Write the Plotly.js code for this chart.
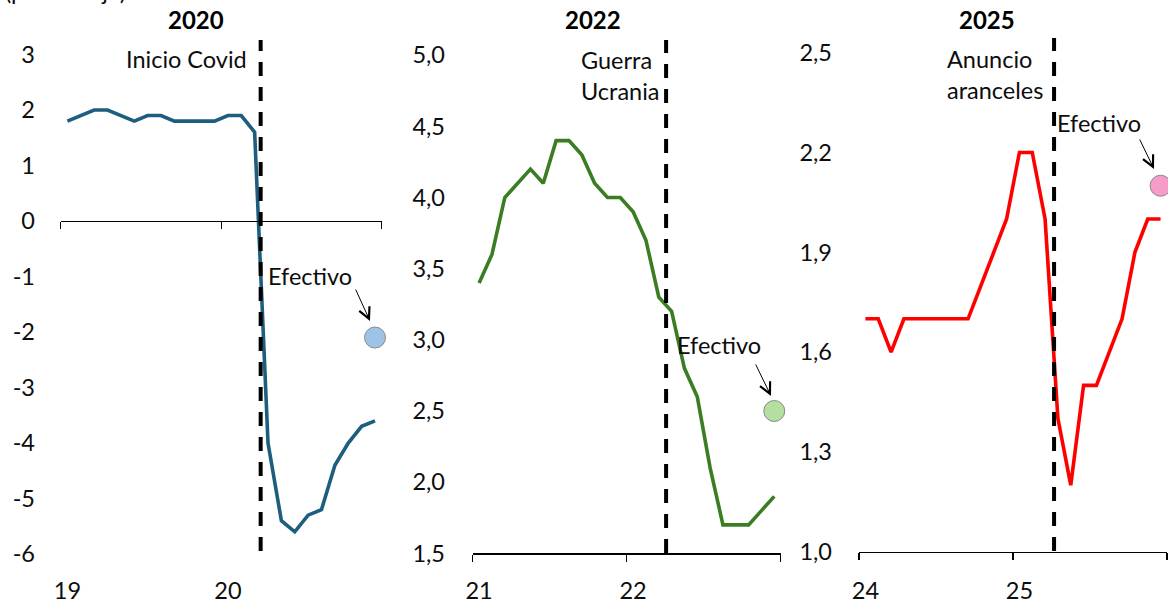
<!DOCTYPE html>
<html>
<head>
<meta charset="utf-8">
<script src="https://cdn.plot.ly/plotly-3.0.1.min.js"></script>
<style>
  html, body { margin: 0; padding: 0; background: #ffffff; }
  #chart { width: 1168px; height: 606px; }
</style>
</head>
<body>
<div id="chart"></div>
<script>
// Monthly readings, Jan of the first year through Dec of the second year, one panel per episode
const titles = ['2020', '2022', '2025'];
const yearLabels = [['19', '20'], ['21', '22'], ['24', '25']];
const eventLabels = ['Inicio Covid', 'Guerra<br>Ucrania', 'Anuncio<br>aranceles'];
const effectiveLabel = 'Efectivo';
const unitLabel = '(porcentaje)';

const covidSeries   = [1.8, 1.9, 2.0, 2.0, 1.9, 1.8, 1.9, 1.9, 1.8, 1.8, 1.8, 1.8,
                       1.9, 1.9, 1.6, -4.0, -5.4, -5.6, -5.3, -5.2, -4.4, -4.0, -3.7, -3.6];
const ukraineSeries = [3.4, 3.6, 4.0, 4.1, 4.2, 4.1, 4.4, 4.4, 4.3, 4.1, 4.0, 4.0,
                       3.9, 3.7, 3.3, 3.2, 2.8, 2.6, 2.1, 1.7, 1.7, 1.7, 1.8, 1.9];
const tariffSeries  = [1.7, 1.7, 1.6, 1.7, 1.7, 1.7, 1.7, 1.7, 1.7, 1.8, 1.9, 2.0,
                       2.2, 2.2, 2.0, 1.4, 1.2, 1.5, 1.5, 1.6, 1.7, 1.9, 2.0, 2.0];
const effectiveValues = [-2.1, 2.5, 2.1];
// event date, in months since the start of the panel's first year
const eventMonth = [14.95, 15.07, 15.2];

const yTicks1 = [-6, -5, -4, -3, -2, -1, 0, 1, 2, 3];
const yTicks2 = [1.5, 2.0, 2.5, 3.0, 3.5, 4.0, 4.5, 5.0];
const yTicks3 = [1.0, 1.3, 1.6, 1.9, 2.2, 2.5];

// ---- page geometry (pixels) ----
const W = 1168, H = 606;
const fx = px => px / W;
const fy = py => 1 - py / H;
const PLOT_TOP = 28, PLOT_BOTTOM = 564;
const LABEL_AXIS_PX = 574;
const FONT = 'Lato, "Open Sans", sans-serif';
const INK = '#0d0d0d';
const TXT = 23.5;

const panels = [
  { series: covidSeries, ticks: yTicks1, fmt: v => String(v), cross: 0,
    line: '#1d5e7e', dot: '#9dc3e6',
    left: 60.7, right: 381.7, refVal: 0, refPx: 221, ppu: 55.5, labelRight: 33,
    dashTop: 40, dashBot: 551, titleX: 196,
    evt: { x: 249, y: 59, xanchor: 'right', align: 'right' },
    eff: { x: 266, y: 276 }, arrow: { tx: 370, ty: 321, sx: 355, sy: 288 } },
  { series: ukraineSeries, ticks: yTicks2, fmt: v => v.toFixed(1).replace('.', ','), cross: yTicks2[0],
    line: '#3a7d22', dot: '#b3df9f',
    left: 472.7, right: 780.7, refVal: 1.5, refPx: 553.3, ppu: 142.3, labelRight: 443,
    dashTop: 40, dashBot: 553, titleX: 593,
    evt: { x: 579, y: 76, xanchor: 'left', align: 'left' },
    eff: { x: 675, y: 345 }, arrow: { tx: 771, ty: 396, sx: 755, sy: 363 } },
  { series: tariffSeries, ticks: yTicks3, fmt: v => v.toFixed(1).replace('.', ','), cross: yTicks3[0],
    line: '#ff0000', dot: '#f59cc9',
    left: 859, right: 1167, refVal: 1.0, refPx: 551.7, ppu: 332.7, labelRight: 830,
    dashTop: 38, dashBot: 551, titleX: 987,
    evt: { x: 945, y: 74, xanchor: 'left', align: 'left' },
    eff: { x: 1055, y: 123 }, arrow: { tx: 1154, ty: 169, sx: 1139, sy: 138 } }
];

const data = [];
const layout = {
  width: W, height: H,
  margin: { l: 0, r: 0, t: 0, b: 0 },
  paper_bgcolor: '#ffffff', plot_bgcolor: 'rgba(0,0,0,0)',
  showlegend: false,
  separators: ',.',
  font: { family: FONT, size: TXT, color: INK },
  shapes: [],
  annotations: []
};

panels.forEach((p, k) => {
  const xMain = 'x' + (2 * k + 1), xLab = 'x' + (2 * k + 2), yId = 'y' + (k + 1);
  const xMainKey = 'xaxis' + (k === 0 ? '' : 2 * k + 1);
  const xLabKey = 'xaxis' + (2 * k + 2);
  const yKey = 'yaxis' + (k === 0 ? '' : k + 1);
  const nMonths = p.series.length;
  const months = p.series.map((_, i) => i + 0.5);

  // main monthly line
  data.push({
    type: 'scatter', mode: 'lines', x: months, y: p.series,
    xaxis: xMain, yaxis: yId,
    line: { color: p.line, width: 3.6, shape: 'linear' },
    hoverinfo: 'skip'
  });
  // actual outcome marker at the last month
  data.push({
    type: 'scatter', mode: 'markers', x: [months[nMonths - 1]], y: [effectiveValues[k]],
    xaxis: xLab, yaxis: yId, cliponaxis: false,
    marker: { size: 21, color: p.dot, line: { color: '#8a8a8a', width: 1 } },
    hoverinfo: 'skip'
  });

  const yRange = [p.refVal - (PLOT_BOTTOM - p.refPx) / p.ppu, p.refVal + (p.refPx - PLOT_TOP) / p.ppu];
  const crossPx = p.refPx - (p.cross - p.refVal) * p.ppu;

  // axis line with year ticks, drawn where the value axis crosses
  layout[xMainKey] = {
    domain: [fx(p.left), fx(p.right)], range: [0, nMonths],
    anchor: 'free', position: fy(crossPx),
    showline: true, linecolor: '#000000', linewidth: 1.4,
    ticks: 'outside', ticklen: 7, tickwidth: 1.4, tickcolor: '#000000',
    tickmode: 'array', tickvals: [0, 12, 24],
    showticklabels: false, showgrid: false, zeroline: false, fixedrange: true
  };
  // year labels along the bottom
  layout[xLabKey] = {
    domain: [fx(p.left), fx(p.right)], range: [0, nMonths],
    overlaying: xMain, anchor: 'free', position: fy(LABEL_AXIS_PX),
    showline: false, ticks: '',
    tickmode: 'array', tickvals: [0.5, 12.5], ticktext: yearLabels[k],
    tickfont: { family: FONT, size: TXT, color: INK },
    showgrid: false, zeroline: false, fixedrange: true
  };
  layout[yKey] = {
    domain: [fy(PLOT_BOTTOM), fy(PLOT_TOP)], range: yRange,
    anchor: 'free', position: fx(p.labelRight + 2),
    showline: false, ticks: '', showgrid: false, zeroline: false,
    tickmode: 'array', tickvals: p.ticks, ticktext: p.ticks.map(p.fmt),
    tickfont: { family: FONT, size: TXT, color: INK }, fixedrange: true
  };

  // event marker
  layout.shapes.push({
    type: 'line', xref: xMain, yref: 'paper',
    x0: eventMonth[k], x1: eventMonth[k], y0: fy(p.dashBot), y1: fy(p.dashTop),
    line: { color: '#000000', width: 4, dash: '14px,11px' }
  });

  // panel title
  layout.annotations.push({
    xref: 'paper', yref: 'paper', x: fx(p.titleX), y: fy(20),
    xanchor: 'center', yanchor: 'middle', showarrow: false,
    text: '<b>' + titles[k] + '</b>', font: { family: FONT, size: 24, color: '#000000' }
  });
  // event name
  layout.annotations.push({
    xref: 'paper', yref: 'paper', x: fx(p.evt.x), y: fy(p.evt.y),
    xanchor: p.evt.xanchor, yanchor: 'middle', align: p.evt.align, showarrow: false,
    text: eventLabels[k], font: { family: FONT, size: TXT, color: INK }
  });
  // "Efectivo" caption and arrow pointing to the marker
  layout.annotations.push({
    xref: 'paper', yref: 'paper', x: fx(p.eff.x), y: fy(p.eff.y),
    xanchor: 'left', yanchor: 'middle', showarrow: false,
    text: effectiveLabel, font: { family: FONT, size: TXT, color: INK }
  });
  layout.annotations.push({
    xref: 'paper', yref: 'paper', x: fx(p.arrow.tx), y: fy(p.arrow.ty),
    ax: p.arrow.sx - p.arrow.tx, ay: p.arrow.sy - p.arrow.ty,
    text: '', showarrow: true, arrowhead: 5, arrowsize: 2.2, arrowwidth: 1, arrowcolor: '#000000'
  });
});

// unit note at the very top, mostly above the visible area
layout.annotations.push({
  xref: 'paper', yref: 'paper', x: fx(3), y: fy(7),
  xanchor: 'left', yanchor: 'bottom', showarrow: false,
  text: unitLabel, font: { family: FONT, size: TXT, color: INK }
});

Plotly.newPlot('chart', data, layout, { staticPlot: true, displayModeBar: false });
</script>
</body>
</html>
